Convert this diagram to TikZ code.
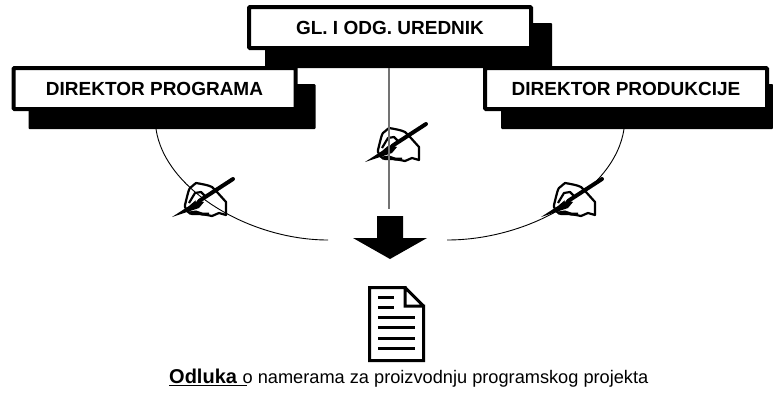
\documentclass[tikz,border=0pt]{standalone}
\usepackage{fontspec}
\setmainfont{Liberation Sans}
\tikzset{
  shadowbox/.style={fill=black,draw=none,rounded corners=1pt,minimum width=287pt,minimum height=45pt,inner sep=0pt,outer sep=0pt},
  titlebox/.style={fill=white,draw=black,line width=4pt,rounded corners=1pt,minimum width=282pt,minimum height=41pt,inner sep=0pt,outer sep=0pt,font=\fontsize{19}{22}\selectfont\bfseries},
  thinline/.style={line width=0.9pt,black},
  greyline/.style={line width=1.1pt,black!55},
  handline/.style={line width=2.2pt,black,line join=round},
  docline/.style={line width=3pt,black},
  pics/signhand/.style={code={
    \filldraw[handline,fill=#1]
      (13,-12) .. controls (15,-20) and (17,-29) .. (18,-29)
      -- (24,-34) .. controls (30,-33) and (36,-32) .. (40,-30)
      -- (45,-25) -- (54,-15) -- (54,-2) -- (47,-4) -- (40,-1) -- (30,-3) -- (20,-3)
      .. controls (16,-4) and (14,-7) .. (13,-10) -- cycle;
    \draw[handline] (17,-14) -- (23,-24) -- (29,-25) -- (33,-21);
    \draw[line width=3pt] (17,-4) -- (24,-5) -- (30,-3) -- (37,-3);
    \fill (0,0) -- (17,-11) -- (24,-17) -- (32,-15) -- (27,-9) -- cycle;
    \draw[line width=4pt,line cap=round] (24,-14) -- (61,-38);
    \fill[white] (23,-18) -- (28,-21) -- (24,-15) -- cycle;
  }}
}
\begin{document}
\begin{tikzpicture}[x=1pt,y=-1pt]
\useasboundingbox (0,0) rectangle (773,392);
% shadows
\node[shadowbox] (topS) at (408.5,45.5) {};
\node[shadowbox] (leftS) at (172,106.5) {};
\node[shadowbox,minimum width=272pt] (rightS) at (637,106.5) {};
% boxes
\node[titlebox] (top) at (390,27.5) {GL. I ODG. UREDNIK};
\node[titlebox] (left) at (154.5,88.5) {DIREKTOR PROGRAMA};
\node[titlebox] (right) at (626,88.5) {DIREKTOR PRODUKCIJE};
% hands below or above connectors
\pic at (172,217) {signhand=white};
\pic at (365,162) {signhand=white};
% connectors
\coordinate (lStart) at (156,129);
\coordinate (lEnd) at (328,240);
\coordinate (rStart) at (624,129);
\coordinate (rEnd) at (447,240);
\coordinate (cStart) at (389,68);
\coordinate (cEnd) at (389,209);
\draw[thinline] (lStart) .. controls (165,190) and (250,240) .. (lEnd);
\draw[thinline] (rStart) .. controls (615,190) and (530,240) .. (rEnd);
\draw[greyline] (cStart) -- (cEnd);
\pic at (541,217) {signhand=white};
% arrow
\fill (377,216) -- (403,216) -- (403,238) -- (427,238) -- (390,259) -- (353,238) -- (377,238) -- cycle;
% document
\draw[docline,line join=miter] (405,287.5) -- (369.5,287.5) -- (369.5,360.5) -- (423.5,360.5) -- (423.5,306) -- (405,306) -- cycle (405,287.5) -- (423.5,306);
\foreach \yy in {297,307} \draw[docline] (378,\yy) -- (394,\yy);
\foreach \yy in {317,327,338,348} \draw[docline] (378,\yy) -- (415,\yy);
% caption
\node[anchor=base west,inner sep=0pt,font=\fontsize{18.2}{22}\selectfont] (cap) at (169,383) {\rlap{\rule[-3.4pt]{78pt}{1.8pt}}\textbf{\fontsize{20}{22}\selectfont Odluka\ }o namerama za proizvodnju programskog projekta};
\end{tikzpicture}
\end{document}
